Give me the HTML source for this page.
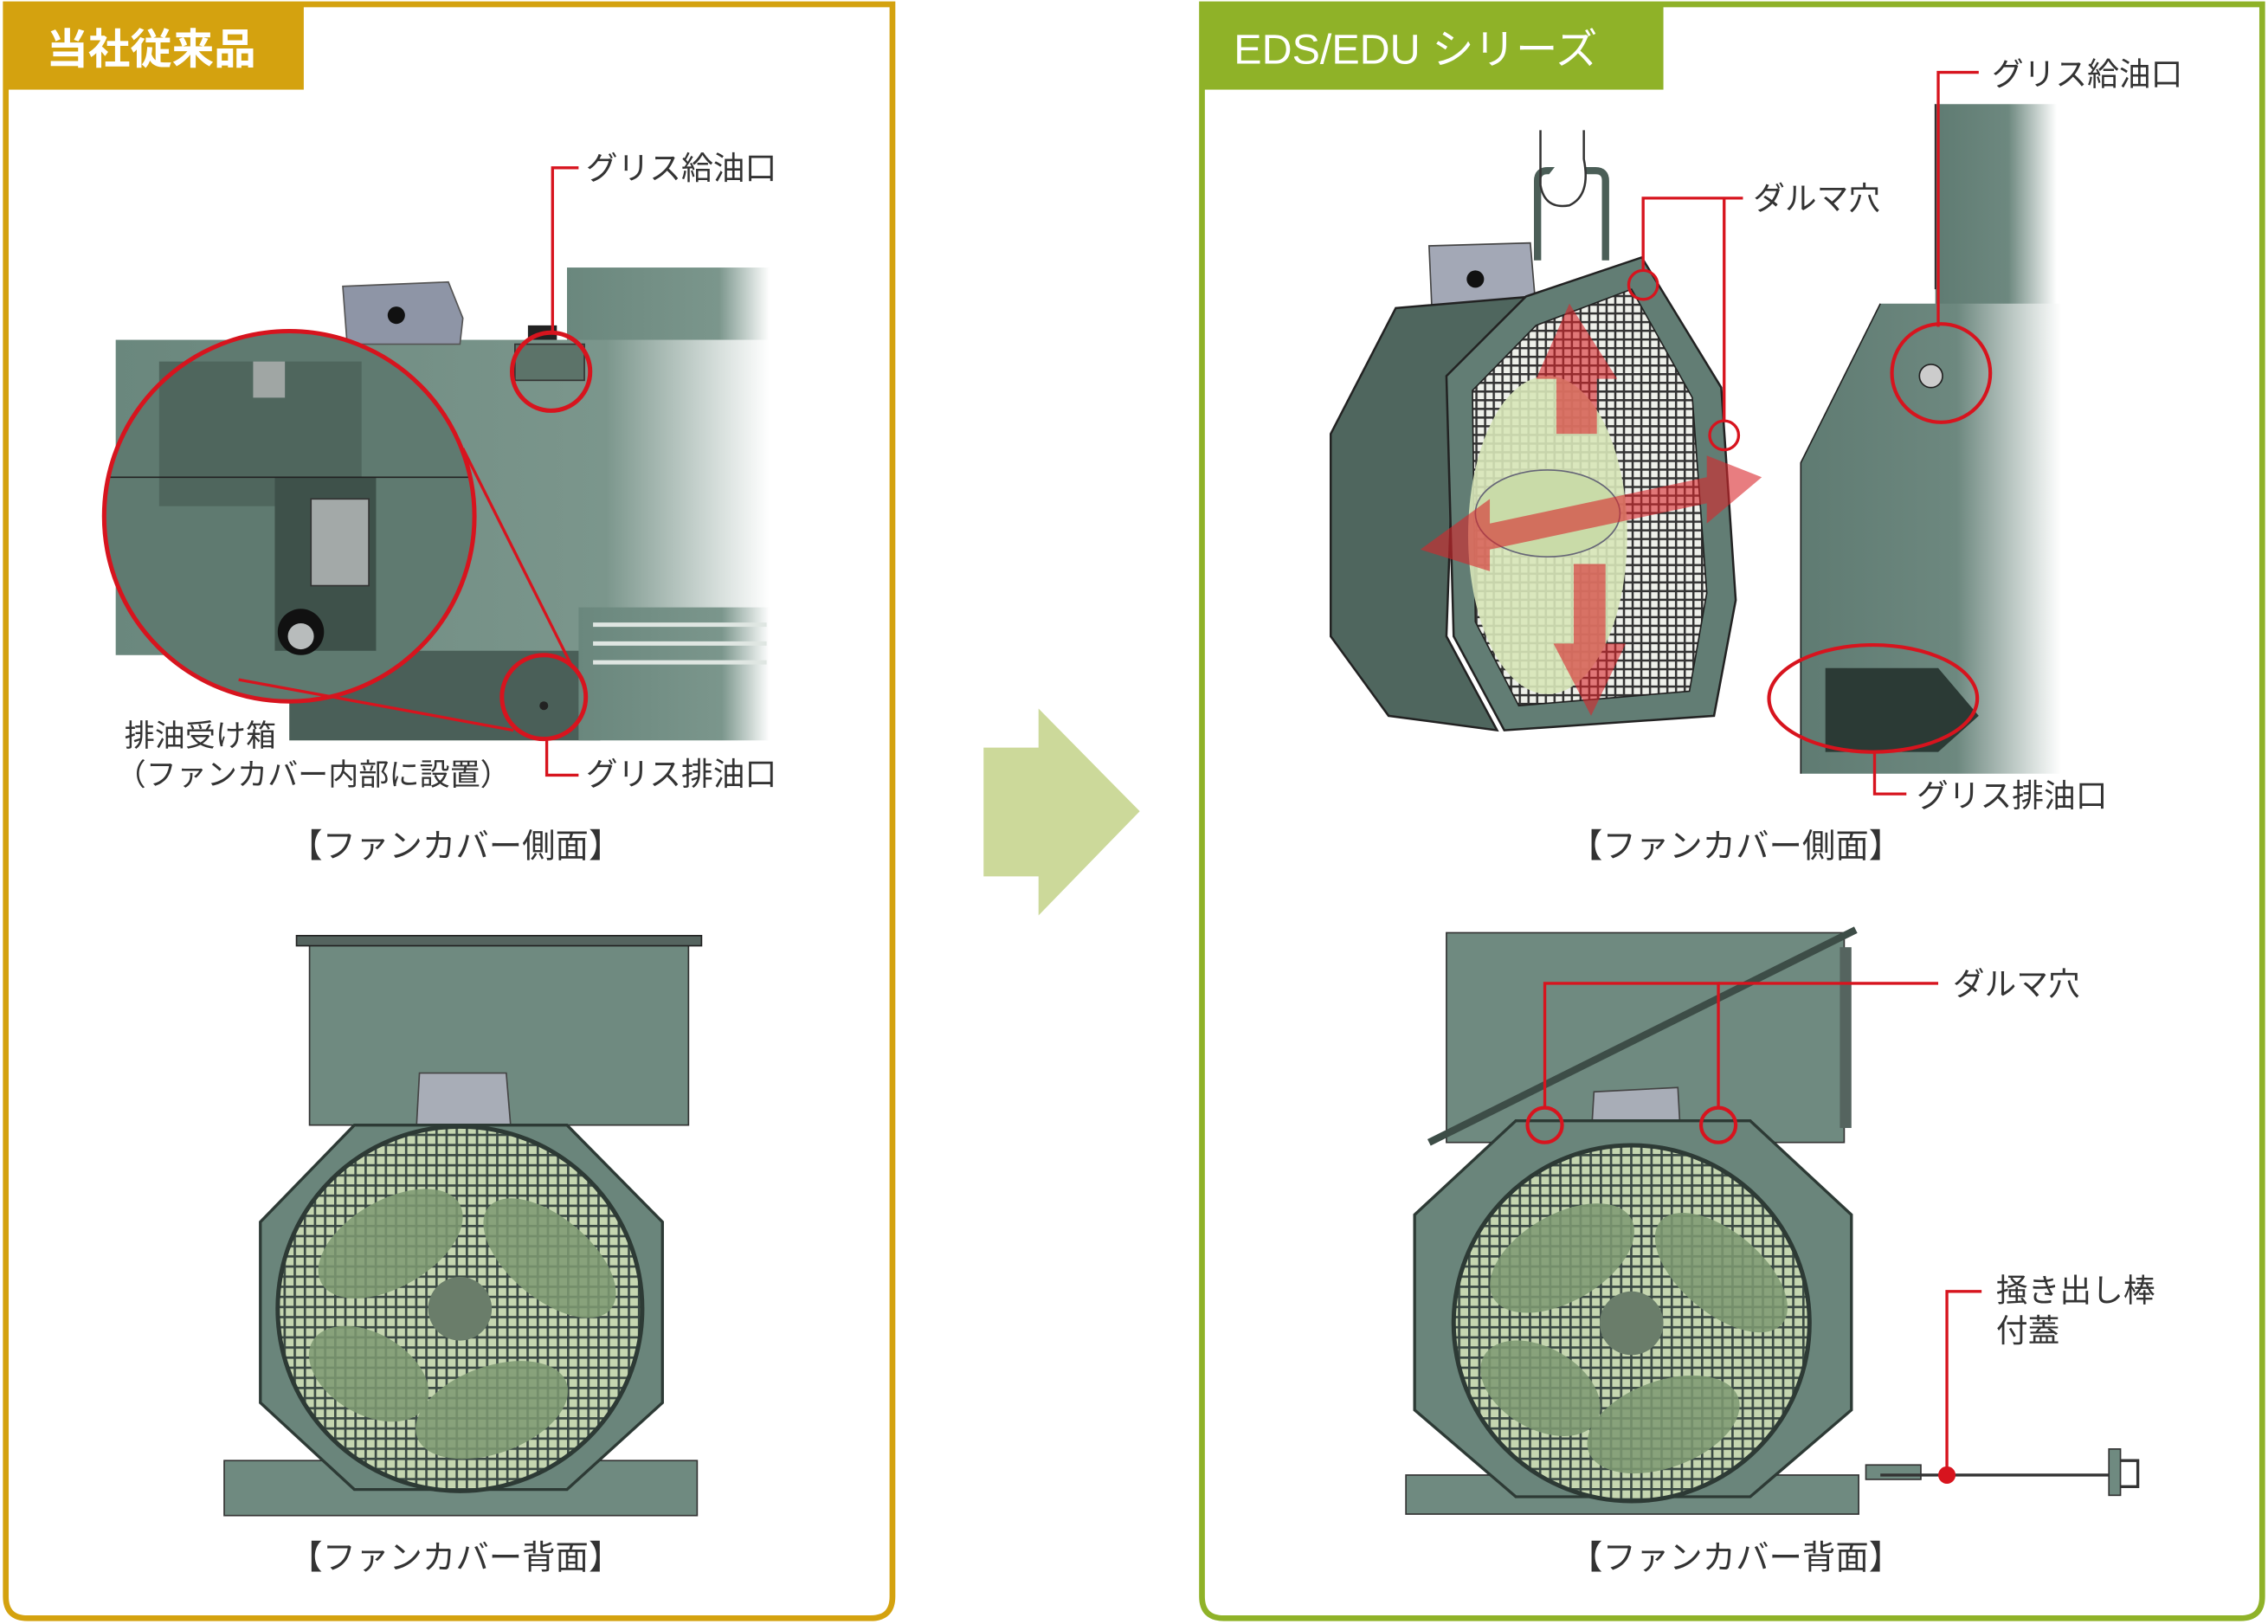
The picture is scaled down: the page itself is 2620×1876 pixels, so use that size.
<!DOCTYPE html>
<html><head><meta charset="utf-8"><style>
html,body{margin:0;padding:0;background:#fff;}
svg{display:block;}
text{font-family:"Liberation Sans","Noto Sans CJK JP",sans-serif;}
</style></head><body>
<svg width="2620" height="1876" viewBox="0 0 1568 1123" preserveAspectRatio="none" xmlns="http://www.w3.org/2000/svg">
<defs>
<linearGradient id="fadeL" x1="0" x2="1" y1="0" y2="0">
<stop offset="0" stop-color="#6a877d" stop-opacity="1"/>
<stop offset="0.75" stop-color="#7b968c" stop-opacity="1"/>
<stop offset="1" stop-color="#ffffff" stop-opacity="1"/>
</linearGradient>
<linearGradient id="fadeR" x1="0" x2="1" y1="0" y2="0">
<stop offset="0" stop-color="#5f7b72"/>
<stop offset="0.6" stop-color="#6d887f"/>
<stop offset="1" stop-color="#ffffff"/>
</linearGradient>
<pattern id="grid" width="7" height="7" patternUnits="userSpaceOnUse">
<rect width="7" height="7" fill="#c5d6b0"/>
<rect width="7" height="1.6" fill="#3b4a44"/>
<rect width="1.6" height="7" fill="#3b4a44"/>
</pattern>
<pattern id="grid2" width="6" height="6" patternUnits="userSpaceOnUse">
<rect width="6" height="6" fill="#eef0ea"/>
<rect width="6" height="1.5" fill="#333"/>
<rect width="1.5" height="6" fill="#333"/>
</pattern>
</defs>

<!-- LEFT PANEL -->
<path d="M4,3 H617 V1104 Q617,1119 602,1119 H19 Q4,1119 4,1104 Z" fill="none" stroke="#d4a20f" stroke-width="4"/>
<rect x="3" y="3" width="207" height="59" fill="#d4a20f"/>
<text x="32" y="44" font-size="29" fill="#fff" font-weight="bold">当社従来品</text>

<!-- left upper machine -->
<rect x="392" y="185" width="140" height="52" fill="url(#fadeL)"/>
<rect x="80" y="235" width="452" height="218" fill="url(#fadeL)"/>
<rect x="200" y="450" width="215" height="62" fill="#4a5f58"/>
<rect x="400" y="420" width="132" height="92" fill="url(#fadeL)"/>
<g stroke="#dfe6e2" stroke-width="3"><line x1="410" y1="432" x2="530" y2="432"/><line x1="410" y1="445" x2="530" y2="445"/><line x1="410" y1="458" x2="530" y2="458"/></g>
<polygon points="237,198 310,195 320,220 318,238 240,238" fill="#8e95a6" stroke="#555" stroke-width="1"/>
<circle cx="274" cy="218" r="6" fill="#111"/>
<rect x="365" y="225" width="20" height="10" fill="#222"/>
<rect x="356" y="238" width="48" height="25" fill="#5c7369" stroke="#333" stroke-width="1"/>
<!-- magnifier -->
<circle cx="200" cy="357" r="128" fill="#5f7a70"/>
<rect x="110" y="250" width="140" height="100" fill="#4f665d"/>
<rect x="190" y="330" width="70" height="120" fill="#3e514a"/>
<rect x="215" y="345" width="40" height="60" fill="#a3a9a8" stroke="#333"/>
<circle cx="208" cy="437" r="16" fill="#111"/><circle cx="208" cy="440" r="9" fill="#b8bcbc"/>
<rect x="175" y="250" width="22" height="25" fill="#a0a6a4"/>
<line x1="74" y1="330" x2="326" y2="330" stroke="#222" stroke-width="1"/>
<circle cx="200" cy="357" r="128" fill="none" stroke="#d7141e" stroke-width="3"/>
<circle cx="381" cy="257" r="27" fill="none" stroke="#d7141e" stroke-width="3"/>
<circle cx="376" cy="482" r="29" fill="none" stroke="#d7141e" stroke-width="3"/>
<line x1="320" y1="310" x2="395" y2="460" stroke="#d7141e" stroke-width="2"/>
<line x1="165" y1="470" x2="355" y2="505" stroke="#d7141e" stroke-width="2"/>
<circle cx="376" cy="488" r="3" fill="#222"/>
<polyline points="400,116 382,116 382,230" fill="none" stroke="#d7141e" stroke-width="2"/>
<polyline points="378,512 378,536 400,536" fill="none" stroke="#d7141e" stroke-width="2"/>
<text x="405" y="124" font-size="22" fill="#333">グリス給油口</text>
<text x="405" y="543" font-size="22" fill="#333">グリス排油口</text>
<text x="86" y="516" font-size="21" fill="#333">排油受け箱</text>
<text x="80" y="543" font-size="21" fill="#333">（ファンカバー内部に設置）</text>
<text x="315" y="593" font-size="23" fill="#333" text-anchor="middle">【ファンカバー側面】</text>

<!-- left lower -->
<rect x="214" y="652" width="262" height="126" fill="#6f8a80" stroke="#333" stroke-width="1"/>
<rect x="205" y="647" width="280" height="7" fill="#55645f" stroke="#222"/>
<polygon points="290,742 350,742 353,778 288,778" fill="#a8adb7" stroke="#444"/>
<rect x="155" y="1010" width="327" height="38" fill="#6f8a80" stroke="#333"/>
<polygon points="245,778 392,778 458,845 458,970 392,1030 245,1030 180,970 180,845" fill="#6a857b" stroke="#2d3a35" stroke-width="2"/>
<circle cx="318" cy="905" r="126" fill="url(#grid)" stroke="#2d3a35" stroke-width="3"/>
<g fill="#7e9a72" opacity="0.85">
<ellipse cx="270" cy="860" rx="55" ry="30" transform="rotate(-30 270 860)"/>
<ellipse cx="380" cy="870" rx="55" ry="28" transform="rotate(40 380 870)"/>
<ellipse cx="340" cy="975" rx="55" ry="30" transform="rotate(-20 340 975)"/>
<ellipse cx="255" cy="950" rx="45" ry="28" transform="rotate(30 255 950)"/>
</g>
<circle cx="318" cy="905" r="22" fill="#6a7d6a"/>
<text x="315" y="1085" font-size="23" fill="#333" text-anchor="middle">【ファンカバー背面】</text>

<!-- ARROW -->
<polygon points="680,517 718,517 718,490 788,561 718,633 718,606 680,606" fill="#ccd99a"/>

<!-- RIGHT PANEL -->
<path d="M831,3 H1564 V1104 Q1564,1119 1549,1119 H846 Q831,1119 831,1104 Z" fill="none" stroke="#8fb228" stroke-width="4"/>
<rect x="830" y="3" width="320" height="59" fill="#8fb228"/>
<text x="853" y="44" font-size="29" fill="#fff">EDS/EDU シリーズ</text>

<!-- right top-left fan cover -->
<polygon points="988,170 1058,168 1062,215 990,215" fill="#a3a8b6" stroke="#444"/>
<circle cx="1020" cy="193" r="6" fill="#111"/>
<path d="M1063,180 V125 Q1063,118 1070,118 H1103 Q1110,118 1110,125 V180" fill="none" stroke="#4b5e57" stroke-width="5"/>
<path d="M1065,128 L1065,90 M1095,90 L1095,110 Q1100,135 1085,142 Q1068,145 1065,128" fill="#fff" stroke="#333" stroke-width="1.5"/>
<polygon points="965,213 1060,205 1005,300 1000,440 1035,505 960,495 920,440 920,300" fill="#4f665e" stroke="#222" stroke-width="1.5"/>
<polygon points="1055,205 1135,178 1190,268 1200,415 1185,495 1040,505 1005,440 1000,260" fill="#627d74" stroke="#222" stroke-width="1.5"/>
<polygon points="1062,225 1128,200 1170,275 1180,410 1168,478 1050,488 1020,430 1018,270" fill="url(#grid2)" stroke="#222"/>
<ellipse cx="1070" cy="370" rx="55" ry="110" fill="#d7e6b8" opacity="0.9"/>
<ellipse cx="1070" cy="355" rx="50" ry="30" fill="#c9dba8" stroke="#667" stroke-width="1"/>
<g fill="#d8262b" opacity="0.6">
<polygon points="1085,210 1118,262 1104,262 1104,300 1076,300 1076,262 1062,262"/>
<polygon points="1100,495 1124,445 1110,445 1110,390 1088,390 1088,445 1074,445"/>
<polygon points="982,380 1030,345 1030,362 1180,330 1180,315 1218,330 1180,362 1180,348 1030,380 1030,395"/>
</g>
<circle cx="1136" cy="197" r="10" fill="none" stroke="#d7141e" stroke-width="2"/>
<circle cx="1192" cy="301" r="10" fill="none" stroke="#d7141e" stroke-width="2"/>
<polyline points="1136,187 1136,137 1205,137" fill="none" stroke="#d7141e" stroke-width="2"/>
<line x1="1192" y1="291" x2="1192" y2="137" stroke="#d7141e" stroke-width="2"/>
<text x="1212" y="145" font-size="22" fill="#333">ダルマ穴</text>

<!-- right top-right machine -->
<rect x="1338" y="72" width="84" height="172" fill="url(#fadeR)"/>
<line x1="1338" y1="72" x2="1338" y2="200" stroke="#222"/>
<polygon points="1245,320 1300,210 1425,210 1425,535 1245,535" fill="url(#fadeR)"/>
<polyline points="1245,535 1245,320 1300,210" fill="none" stroke="#222"/>
<polygon points="1262,462 1340,462 1368,495 1340,520 1262,520" fill="#2b3a35"/>
<circle cx="1335" cy="260" r="8" fill="#ccc" stroke="#222"/>
<circle cx="1342" cy="258" r="34" fill="none" stroke="#d7141e" stroke-width="2.5"/>
<ellipse cx="1295" cy="483" rx="72" ry="37" fill="none" stroke="#d7141e" stroke-width="2.5"/>
<polyline points="1340,226 1340,50 1368,50" fill="none" stroke="#d7141e" stroke-width="2"/>
<polyline points="1296,520 1296,549 1318,549" fill="none" stroke="#d7141e" stroke-width="2"/>
<text x="1377" y="59" font-size="22" fill="#333">グリス給油口</text>
<text x="1325" y="558" font-size="22" fill="#333">グリス排油口</text>
<text x="1200" y="593" font-size="23" fill="#333" text-anchor="middle">【ファンカバー側面】</text>

<!-- right bottom -->
<rect x="1000" y="645" width="275" height="145" fill="#6f8a80" stroke="#333"/>
<line x1="988" y1="790" x2="1283" y2="643" stroke="#3d4d47" stroke-width="5"/>
<rect x="1272" y="655" width="8" height="125" fill="#55645f"/>
<polygon points="1102,755 1160,752 1162,788 1100,788" fill="#a8adb7" stroke="#444"/>
<rect x="972" y="1020" width="313" height="27" fill="#6f8a80" stroke="#333"/>
<polygon points="1048,775 1210,775 1280,840 1280,975 1210,1035 1048,1035 978,975 978,840" fill="#6a857b" stroke="#2d3a35" stroke-width="2"/>
<circle cx="1128" cy="915" r="123" fill="url(#grid)" stroke="#2d3a35" stroke-width="3"/>
<g fill="#7e9a72" opacity="0.85">
<ellipse cx="1080" cy="870" rx="55" ry="30" transform="rotate(-30 1080 870)"/>
<ellipse cx="1190" cy="880" rx="55" ry="28" transform="rotate(40 1190 880)"/>
<ellipse cx="1150" cy="985" rx="55" ry="30" transform="rotate(-20 1150 985)"/>
<ellipse cx="1065" cy="960" rx="45" ry="28" transform="rotate(30 1065 960)"/>
</g>
<circle cx="1128" cy="915" r="22" fill="#6a7d6a"/>
<circle cx="1068" cy="778" r="12" fill="none" stroke="#d7141e" stroke-width="2.5"/>
<circle cx="1188" cy="778" r="12" fill="none" stroke="#d7141e" stroke-width="2.5"/>
<polyline points="1068,766 1068,680 1188,680 1188,766" fill="none" stroke="#d7141e" stroke-width="2"/>
<line x1="1188" y1="680" x2="1340" y2="680" stroke="#d7141e" stroke-width="2"/>
<text x="1350" y="688" font-size="22" fill="#333">ダルマ穴</text>
<rect x="1290" y="1013" width="38" height="10" fill="#6f8a80" stroke="#333"/>
<line x1="1300" y1="1020" x2="1462" y2="1020" stroke="#333" stroke-width="2"/>
<rect x="1458" y="1002" width="8" height="32" fill="#6f8a80" stroke="#333"/>
<path d="M1466,1010 H1478 V1028 H1466" fill="none" stroke="#333" stroke-width="2"/>
<polyline points="1346,1020 1346,893 1370,893" fill="none" stroke="#d7141e" stroke-width="2"/>
<circle cx="1346" cy="1020" r="6" fill="#d7141e"/>
<text x="1380" y="900" font-size="22" fill="#333">掻き出し棒</text>
<text x="1380" y="928" font-size="22" fill="#333">付蓋</text>
<text x="1200" y="1085" font-size="23" fill="#333" text-anchor="middle">【ファンカバー背面】</text>
</svg>
</body></html>
